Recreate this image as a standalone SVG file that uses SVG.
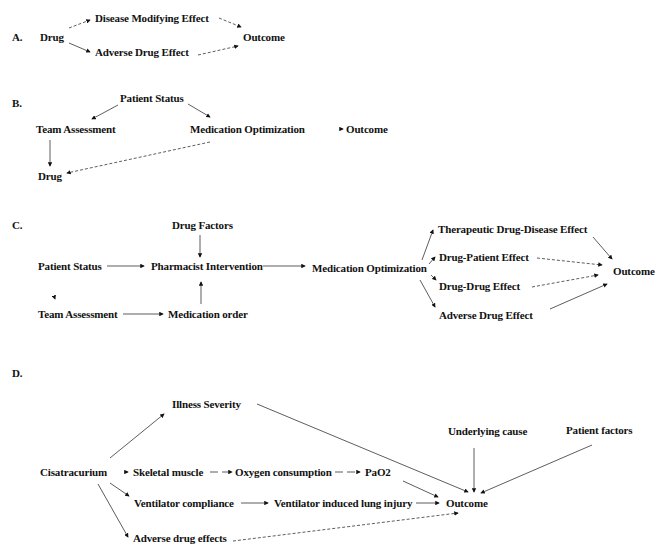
<svg xmlns="http://www.w3.org/2000/svg" width="656" height="544" viewBox="0 0 656 544">
<style>
text{font-family:"Liberation Serif","Times New Roman",serif;font-size:11px;letter-spacing:-0.15px;font-weight:bold;fill:#111}
.c line{stroke:#333;stroke-width:0.8;marker-end:url(#ah)}
.d{stroke-dasharray:3,2}
.ld{stroke-dasharray:8,4}
</style>
<defs>
<marker id="ah" viewBox="0 0 6 6" refX="5" refY="3" markerWidth="4.5" markerHeight="4.5" markerUnits="userSpaceOnUse" orient="auto"><path d="M0,0L6,3L0,6z" fill="#111"/></marker>
</defs>
<rect width="656" height="544" fill="#fff"/>
<!-- Section labels -->
<text x="12" y="41">A.</text>
<text x="12" y="107">B.</text>
<text x="12" y="229">C.</text>
<text x="12" y="377">D.</text>
<!-- A -->
<g id="a-drug"><text x="40" y="41">Drug</text></g>
<g id="a-dme"><text x="95" y="22">Disease Modifying Effect</text></g>
<g id="a-ade"><text x="95" y="56">Adverse Drug Effect</text></g>
<g id="a-out"><text x="243" y="41">Outcome</text></g>
<!-- B -->
<g id="b-ps"><text x="120" y="102">Patient Status</text></g>
<g id="b-ta"><text x="36" y="133">Team Assessment</text></g>
<g id="b-mo"><text x="190" y="133">Medication Optimization</text></g>
<g id="b-out"><text x="346" y="133">Outcome</text></g>
<g id="b-drug"><text x="38" y="180">Drug</text></g>
<!-- C -->
<g id="c-df"><text x="172" y="229">Drug Factors</text></g>
<g id="c-ps"><text x="38" y="270">Patient Status</text></g>
<g id="c-pi"><text x="151" y="270">Pharmacist Intervention</text></g>
<g id="c-mo"><text x="312" y="272">Medication Optimization</text></g>
<g id="c-ta"><text x="38" y="318">Team Assessment</text></g>
<g id="c-mord"><text x="168" y="318">Medication order</text></g>
<g id="c-tdd"><text x="438" y="233">Therapeutic Drug-Disease Effect</text></g>
<g id="c-dpe"><text x="439" y="261">Drug-Patient Effect</text></g>
<g id="c-dde"><text x="439" y="290">Drug-Drug Effect</text></g>
<g id="c-ade"><text x="439" y="319">Adverse Drug Effect</text></g>
<g id="c-out"><text x="613" y="275">Outcome</text></g>
<!-- D -->
<g id="d-is"><text x="172" y="408">Illness Severity</text></g>
<g id="d-cis"><text x="40" y="476">Cisatracurium</text></g>
<g id="d-sm"><text x="133" y="476">Skeletal muscle</text></g>
<g id="d-oc"><text x="235" y="476">Oxygen consumption</text></g>
<g id="d-pao2"><text x="365" y="476">PaO2</text></g>
<g id="d-vc"><text x="134" y="507">Ventilator compliance</text></g>
<g id="d-vili"><text x="274" y="507">Ventilator induced lung injury</text></g>
<g id="d-out"><text x="446" y="507">Outcome</text></g>
<g id="d-ade"><text x="133" y="542">Adverse drug effects</text></g>
<g id="d-uc"><text x="448" y="435">Underlying cause</text></g>
<g id="d-pf"><text x="566" y="434">Patient factors</text></g>
<!-- Connectors -->
<g id="connectors" class="c">
<line class="d" x1="69" y1="28" x2="90" y2="20"/>
<line x1="69" y1="43" x2="90" y2="52"/>
<line class="d" x1="219" y1="18" x2="241" y2="27"/>
<line class="d" x1="198" y1="55" x2="238" y2="46"/>
<line x1="118" y1="105" x2="92" y2="119"/>
<line x1="188" y1="104" x2="210" y2="117"/>
<line x1="50" y1="140" x2="50" y2="166"/>
<line class="d" x1="210" y1="142" x2="67" y2="173"/>
<line x1="340" y1="129" x2="343" y2="129"/>
<line x1="200" y1="235" x2="200" y2="257"/>
<line x1="107" y1="266" x2="144" y2="266"/>
<line x1="263" y1="266" x2="305" y2="266"/>
<line x1="123" y1="314" x2="163" y2="314"/>
<line x1="201" y1="304" x2="201" y2="282"/>
<line x1="54" y1="296" x2="55" y2="299"/>
<line x1="422" y1="260" x2="433" y2="230"/>
<line x1="429" y1="264" x2="435" y2="257"/>
<line x1="431" y1="275" x2="436" y2="280"/>
<line x1="420" y1="280" x2="435" y2="307"/>
<line x1="593" y1="237" x2="612" y2="259"/>
<line class="d" x1="537" y1="258" x2="602" y2="265"/>
<line class="d" x1="532" y1="287" x2="598" y2="275"/>
<line x1="550" y1="309" x2="607" y2="284"/>
<line x1="110" y1="458" x2="164" y2="414"/>
<line x1="124" y1="472" x2="128" y2="472"/>
<line class="ld" x1="210" y1="472" x2="232" y2="472"/>
<line class="ld" x1="335" y1="472" x2="360" y2="472"/>
<line x1="110" y1="483" x2="129" y2="496"/>
<line x1="98" y1="484" x2="128" y2="537"/>
<line x1="241" y1="503" x2="268" y2="503"/>
<line x1="416" y1="503" x2="439" y2="503"/>
<line x1="257" y1="404" x2="468" y2="492"/>
<line x1="403" y1="481" x2="438" y2="497"/>
<line x1="474" y1="448" x2="474" y2="492"/>
<line x1="592" y1="445" x2="481" y2="493"/>
<line class="d" x1="233" y1="541" x2="458" y2="513"/>
</g>
</svg>
